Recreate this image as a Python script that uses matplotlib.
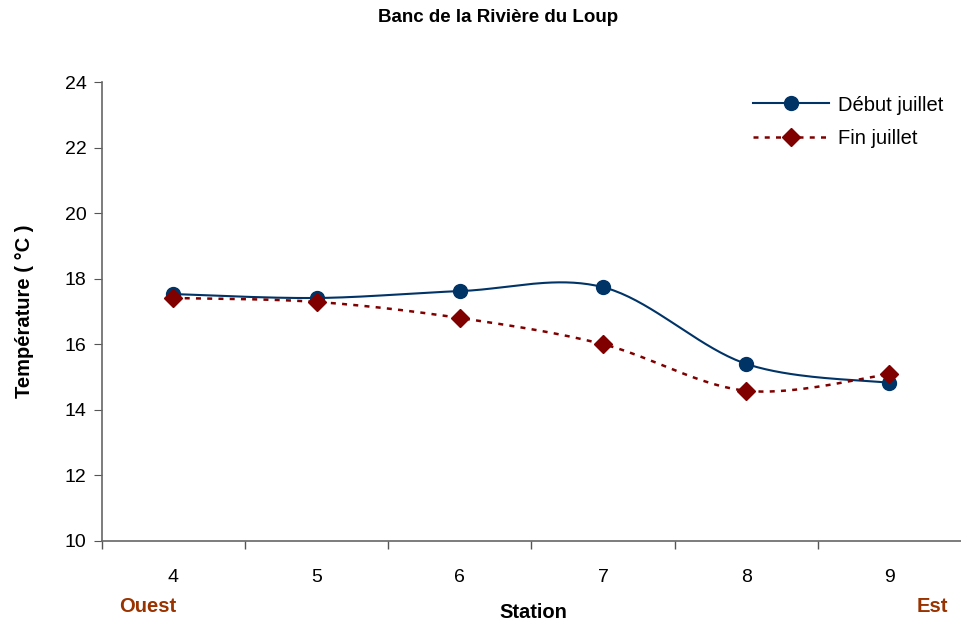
import numpy as np
import matplotlib
matplotlib.use("Agg")
import matplotlib.pyplot as plt

plt.rcParams['font.family'] = ['Liberation Sans', 'DejaVu Sans']

# Daten
stations = ["4", "5", "6", "7", "8", "9"]
debut_juillet = [17.53, 17.41, 17.62, 17.74, 15.40, 14.82]
fin_juillet = [17.41, 17.29, 16.80, 16.00, 14.58, 15.09]


def smooth(x, y, n=40):
    # Excel-artige Glättung (Catmull-Rom / Bezier)
    x = np.asarray(x, float)
    y = np.asarray(y, float)
    px = np.concatenate([[x[0]], x, [x[-1]]])
    py = np.concatenate([[y[0]], y, [y[-1]]])
    xs, ys = [], []
    t = np.linspace(0, 1, n)
    for i in range(1, len(px) - 2):
        p0 = np.array([px[i], py[i]])
        p3 = np.array([px[i + 1], py[i + 1]])
        c1 = p0 + (np.array([px[i + 1], py[i + 1]]) - np.array([px[i - 1], py[i - 1]])) / 6
        c2 = p3 - (np.array([px[i + 2], py[i + 2]]) - np.array([px[i], py[i]])) / 6
        b = ((1 - t) ** 3)[:, None] * p0 + (3 * (1 - t) ** 2 * t)[:, None] * c1 \
            + (3 * (1 - t) * t ** 2)[:, None] * c2 + (t ** 3)[:, None] * p3
        xs.extend(b[:, 0])
        ys.extend(b[:, 1])
    return np.array(xs), np.array(ys)


fig = plt.figure(figsize=(9.61, 6.26), dpi=100)
ax = fig.add_axes([0.106, 0.136, 0.894, 0.733])

x = np.arange(len(stations))
blau = "#003366"
rot = "#800000"

sx, sy = smooth(x, debut_juillet)
ax.plot(sx, sy, color=blau, lw=1.5)
ax.plot(x, debut_juillet, "o", color=blau, ms=10, ls="none")
ax.plot([], [], color=blau, lw=1.5, marker="o", ms=10, label="Début juillet")

sx, sy = smooth(x, fin_juillet)
ax.plot(sx, sy, color=rot, lw=1.8, ls=(0, (2, 2.5)))
ax.plot(x, fin_juillet, "D", color=rot, ms=9, ls="none")
ax.plot([], [], color=rot, lw=1.8, ls=(0, (2, 2.5)), marker="D", ms=9, label="Fin juillet")

ax.set_xlim(-0.5, 5.5)
ax.set_ylim(10, 24)
ax.set_yticks(range(10, 25, 2))
ax.set_xticks(x)
ax.set_xticklabels(stations)
ax.set_xticks(np.arange(-0.5, 5.0, 1), minor=True)
ax.tick_params(axis="x", which="major", length=0, pad=20, labelsize=14)
ax.tick_params(axis="x", which="minor", length=6, color="#555555", width=1)
ax.tick_params(axis="y", length=6, color="#555555", labelsize=14, pad=5)

for s in ["top", "right"]:
    ax.spines[s].set_visible(False)
for s in ["left", "bottom"]:
    ax.spines[s].set_color("#666666")
    ax.spines[s].set_linewidth(1.2)

fig.text(0.518, 1 - 18 / 626, "Banc de la Rivière du Loup", ha="center", va="center",
         fontsize=13.5, fontweight="bold")
ax.set_ylabel("Température ( °C )", fontsize=14.5, fontweight="bold", labelpad=22)
fig.text(0.555, 1 - 612 / 626, "Station", ha="center", va="center", fontsize=14.5, fontweight="bold")
fig.text(0.154, 1 - 607 / 626, "Ouest", ha="center", va="center", fontsize=14.5, fontweight="bold",
         color="#993300")
fig.text(0.97, 1 - 607 / 626, "Est", ha="center", va="center", fontsize=14.5, fontweight="bold",
         color="#993300")

ax.legend(loc="upper right", bbox_to_anchor=(1.0, 1.01), frameon=False, fontsize=14.5,
          handlelength=3.8, handletextpad=0.4, labelspacing=0.7)

fig.savefig("out.png", dpi=100)
